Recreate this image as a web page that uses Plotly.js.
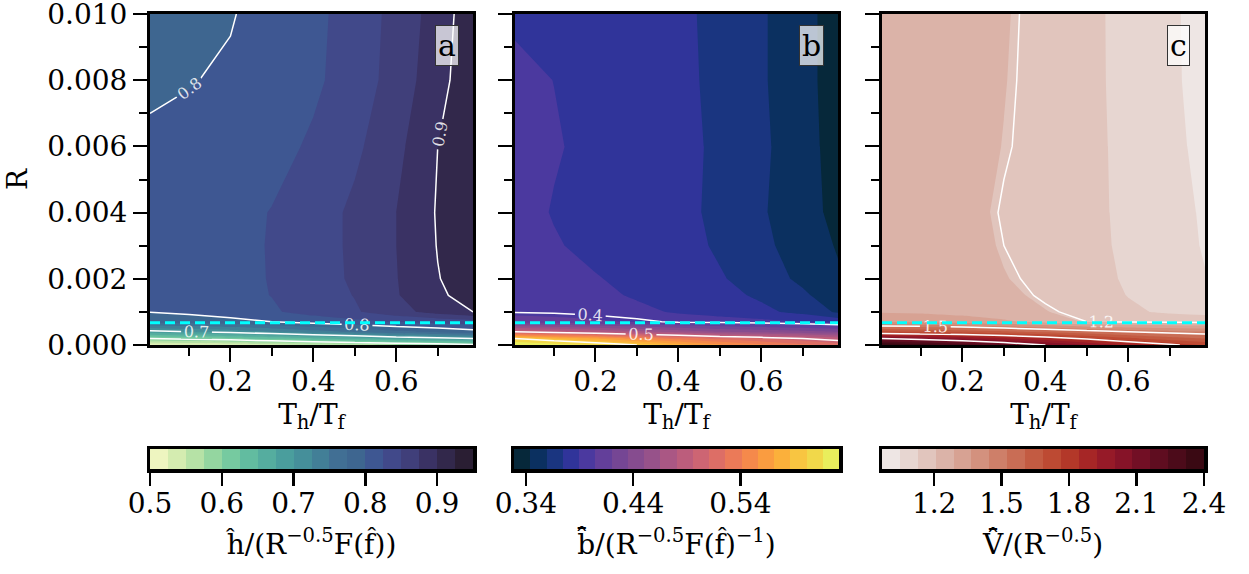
<!DOCTYPE html>
<html><head><meta charset="utf-8">
<script src="https://cdn.plot.ly/plotly-3.0.1.min.js"></script>
<style>html,body{margin:0;padding:0;background:#fff}#chart{width:1249px;height:574px}</style>
</head><body><div id="chart"></div>
<script>
// ---- data ----
const ThTf = [0.006, 0.1, 0.2, 0.3, 0.4, 0.5, 0.6, 0.7, 0.785];
const R = [0, 0.0002, 0.0004, 0.0007, 0.001, 0.0015, 0.002, 0.003, 0.004, 0.006, 0.008, 0.01];
const R_dashed = 0.00067;

const hRatio = [
  [0.52, 0.525, 0.53, 0.54, 0.55, 0.56, 0.57, 0.58, 0.59],
  [0.6, 0.61, 0.62, 0.635, 0.65, 0.665, 0.68, 0.69, 0.7],
  [0.69, 0.7, 0.71, 0.725, 0.74, 0.755, 0.77, 0.78, 0.79],
  [0.78, 0.786, 0.793, 0.8, 0.81, 0.818, 0.826, 0.833, 0.838],
  [0.801, 0.805, 0.81, 0.822, 0.834, 0.847, 0.866, 0.885, 0.9],
  [0.81, 0.813, 0.818, 0.8255, 0.837, 0.851, 0.873, 0.897, 0.907],
  [0.812, 0.815, 0.819, 0.826, 0.838, 0.854, 0.874, 0.899, 0.912],
  [0.81, 0.814, 0.818, 0.8265, 0.838, 0.855, 0.875, 0.901, 0.914],
  [0.808, 0.812, 0.817, 0.826, 0.838, 0.855, 0.875, 0.902, 0.915],
  [0.803, 0.806, 0.809, 0.816, 0.829, 0.845, 0.868, 0.9, 0.918],
  [0.797, 0.799, 0.803, 0.81, 0.82, 0.838, 0.859, 0.892, 0.915],
  [0.793, 0.796, 0.7985, 0.809, 0.818, 0.837, 0.857, 0.887, 0.915]
];
const bRatio = [
  [0.63, 0.625, 0.615, 0.6, 0.58, 0.56, 0.545, 0.53, 0.52],
  [0.6, 0.585, 0.57, 0.55, 0.535, 0.52, 0.51, 0.5, 0.49],
  [0.5, 0.49, 0.48, 0.47, 0.46, 0.45, 0.445, 0.44, 0.435],
  [0.415, 0.412, 0.408, 0.403, 0.398, 0.396, 0.394, 0.39, 0.385],
  [0.399, 0.398, 0.396, 0.393, 0.388, 0.384, 0.378, 0.37, 0.357],
  [0.397, 0.396, 0.393, 0.388, 0.384, 0.379, 0.372, 0.362, 0.35],
  [0.396, 0.394, 0.3902, 0.387, 0.383, 0.376, 0.367, 0.356, 0.346],
  [0.395, 0.3905, 0.387, 0.385, 0.381, 0.372, 0.363, 0.352, 0.343],
  [0.3935, 0.389, 0.386, 0.384, 0.38, 0.37, 0.361, 0.35, 0.34],
  [0.394, 0.3905, 0.387, 0.385, 0.38, 0.371, 0.362, 0.351, 0.337],
  [0.392, 0.3895, 0.386, 0.384, 0.379, 0.37, 0.361, 0.35, 0.336],
  [0.388, 0.386, 0.385, 0.383, 0.378, 0.37, 0.361, 0.35, 0.336]
];
const VRatio = [
  [2.4, 2.35, 2.28, 2.2, 2.1, 2.0, 1.9, 1.82, 1.75],
  [2.1, 2.05, 2.0, 1.93, 1.86, 1.78, 1.7, 1.64, 1.6],
  [1.7, 1.68, 1.65, 1.62, 1.58, 1.54, 1.5, 1.47, 1.45],
  [1.36, 1.35, 1.33, 1.3, 1.26, 1.2, 1.195, 1.19, 1.185],
  [1.28, 1.275, 1.26, 1.24, 1.21, 1.18, 1.14, 1.115, 1.1],
  [1.265, 1.26, 1.245, 1.225, 1.19, 1.16, 1.125, 1.085, 1.06],
  [1.26, 1.255, 1.24, 1.21, 1.185, 1.155, 1.118, 1.078, 1.05],
  [1.255, 1.25, 1.235, 1.2, 1.178, 1.15, 1.112, 1.072, 1.043],
  [1.25, 1.245, 1.23, 1.195, 1.175, 1.148, 1.11, 1.07, 1.04],
  [1.245, 1.24, 1.23, 1.205, 1.18, 1.147, 1.108, 1.065, 1.03],
  [1.24, 1.235, 1.225, 1.209, 1.18, 1.145, 1.106, 1.062, 1.02],
  [1.24, 1.235, 1.225, 1.212, 1.18, 1.145, 1.105, 1.06, 1.02]
];

// filled-contour level edges (colorbar bins)
const hLevels = [0.5, 0.525, 0.55, 0.575, 0.6, 0.625, 0.65, 0.675, 0.7, 0.725, 0.75, 0.775, 0.8, 0.825, 0.85, 0.875, 0.9, 0.925, 0.95];
const bLevels = [0.329, 0.34415, 0.3593, 0.37445, 0.3896, 0.40475, 0.4199, 0.43505, 0.4502, 0.46535, 0.4805, 0.49565, 0.5108, 0.52595, 0.5411, 0.55625, 0.5714, 0.58655, 0.6017, 0.61685, 0.632];
const VLevels = [0.968, 1.04756, 1.12711, 1.20667, 1.28622, 1.36578, 1.44533, 1.52489, 1.60444, 1.684, 1.76356, 1.84311, 1.92267, 2.00222, 2.08178, 2.16133, 2.24089, 2.32044, 2.4];

// labelled line levels
const hLines = {start: 0.6, end: 0.9, size: 0.1};
const bLines = {start: 0.4, end: 0.6, size: 0.1};
const VLines = {start: 1.2, end: 2.4, size: 0.3};

// tick labels
const hTicks = [0.5, 0.6, 0.7, 0.8, 0.9];
const bTicks = [0.34, 0.44, 0.54];
const VTicks = [1.2, 1.5, 1.8, 2.1, 2.4];
const xTicks = [0.2, 0.4, 0.6];
const xMinor = [0.1, 0.3, 0.5, 0.7];
const yTicks = [0, 0.002, 0.004, 0.006, 0.008, 0.01];
const yMinor = [0.001, 0.003, 0.005, 0.007, 0.009];

// ---- styles ----
const deepColors = ['#eef5c0','#d4ecb0','#b6e2a6','#94d6a0','#76caa0','#62bca0','#55ad9f','#4a9e9d','#458f9a','#427f97','#416f94','#3e6690','#3e5792','#41498a','#403f7a','#3a3264','#32284b','#2a1e33'];
const thermalColors = ['#06283a','#0b3060','#1a3580','#30349a','#4b399f','#633f9a','#754694','#864c8f','#97528a','#aa5784','#bc5d7c','#cd6573','#dd6e66','#eb7a58','#f5894b','#fa9c40','#fbb03b','#f8c541','#f1d84a','#e9ee5c'];
const ampColors = ['#eee6e4','#e7d6d1','#e1c5bd','#dbb3a8','#d7a293','#d3917e','#ce7f69','#c96d55','#c35b42','#bd4a33','#b33829','#a62626','#961a28','#861328','#720f25','#5f0d20','#4c0b1a','#3a0913'];

const FONT = 'DejaVu Serif, serif';
const TICK = 28, TITLE = 28;

function fillScale(cols) {
  const N = cols.length, s = [[0, cols[0]]];
  for (let k = 0; k < N; k++) s.push([(k + 1) / (N + 1), cols[k]]);
  s.push([1, cols[N - 1]]);
  return s;
}
function barScale(cols) {
  const N = cols.length;
  return cols.map((c, i) => [i / (N - 1), c]);
}

const panels = [
  {z: hRatio, lev: hLevels, cols: deepColors, lines: hLines, ticks: hTicks, title: 'ĥ/(R<sup>−0.5</sup>F(f̂))', letter: 'a'},
  {z: bRatio, lev: bLevels, cols: thermalColors, lines: bLines, ticks: bTicks, title: 'b̄̂/(R<sup>−0.5</sup>F(f̂)<sup>−1</sup>)', letter: 'b'},
  {z: VRatio, lev: VLevels, cols: ampColors, lines: VLines, ticks: VTicks, title: 'V̄̂/(R<sup>−0.5</sup>)', letter: 'c'}
];

const W = 1249, H = 574;
const px = [[150, 473], [515, 838], [882, 1205]];
const cbx = [[150, 473], [514, 839], [882, 1204]];
const plotY = [(H - 345) / H, (H - 14) / H];
const cbY = [(H - 469) / H, (H - 449) / H];

const data = [];
const layout = {
  width: W, height: H, margin: {l: 0, r: 0, t: 0, b: 0},
  paper_bgcolor: '#fff', plot_bgcolor: '#fff', showlegend: false,
  font: {family: FONT, size: TICK, color: '#000'},
  shapes: [], annotations: []
};
const axKey = (a) => (a[0] === 'x' ? 'xaxis' : 'yaxis') + a.slice(1);

panels.forEach((p, i) => {
  const xa = 'x' + (i === 0 ? '' : i + 1), ya = 'y' + (i === 0 ? '' : i + 1);
  const xb = 'x' + (i + 4), yb = 'y' + (i + 4);
  const L0 = p.lev[0], LN = p.lev[p.lev.length - 1];
  const cs = (LN - L0) / (p.lev.length - 1);
  data.push({
    type: 'contour', x: ThTf, y: R, z: p.z, xaxis: xa, yaxis: ya,
    autocontour: false,
    contours: {coloring: 'fill', start: L0, end: LN, size: cs, showlines: false},
    colorscale: fillScale(p.cols), showscale: false,
    line: {width: 0, smoothing: 0}, hoverinfo: 'skip'
  });
  data.push({
    type: 'contour', x: ThTf, y: R, z: p.z, xaxis: xa, yaxis: ya,
    autocontour: false,
    contours: {coloring: 'none', start: p.lines.start, end: p.lines.end, size: p.lines.size,
      showlabels: true, labelformat: '.1f', labelfont: {family: FONT, size: 16, color: 'rgba(255,255,255,0.85)'}},
    line: {color: '#ffffff', width: 1.5, smoothing: 0}, showscale: false, hoverinfo: 'skip'
  });
  data.push({
    type: 'heatmap', x: p.lev, y: [0], z: [p.cols.map((c, k) => k)],
    zmin: 0, zmax: p.cols.length - 1, colorscale: barScale(p.cols), showscale: false,
    xaxis: xb, yaxis: yb, hoverinfo: 'skip'
  });

  layout[axKey(xa)] = {
    domain: [px[i][0] / W, px[i][1] / W], anchor: ya, range: [ThTf[0], ThTf[ThTf.length - 1]],
    tickmode: 'array', tickvals: xTicks, ticktext: xTicks.map(v => v.toFixed(1)),
    ticks: 'outside', ticklen: 14, tickwidth: 2, tickcolor: '#000', ticklabelstandoff: -5,
    minor: {tickmode: 'array', tickvals: xMinor, ticks: 'outside', ticklen: 8, tickwidth: 2, tickcolor: '#000'},
    showline: true, mirror: true, linewidth: 3, linecolor: '#000',
    showgrid: false, zeroline: false, tickfont: {family: FONT, size: TICK},
    title: {text: 'T<sub>h</sub>/T<sub>f</sub>', font: {family: FONT, size: TITLE}, standoff: 0}
  };
  layout[axKey(ya)] = {
    domain: plotY, anchor: xa, range: [R[0], R[R.length - 1]],
    tickmode: 'array', tickvals: yTicks, ticktext: yTicks.map(v => v.toFixed(3)), showticklabels: i === 0,
    ticklabeloverflow: 'allow',
    ticks: 'outside', ticklen: 14, tickwidth: 2, tickcolor: '#000',
    minor: {tickmode: 'array', tickvals: yMinor, ticks: 'outside', ticklen: 8, tickwidth: 2, tickcolor: '#000'},
    showline: true, mirror: true, linewidth: 3, linecolor: '#000',
    showgrid: false, zeroline: false, tickfont: {family: FONT, size: TICK},
    title: i === 0 ? {text: 'R', font: {family: FONT, size: TITLE}, standoff: 12} : {text: ''}
  };
  layout[axKey(xb)] = {
    domain: [cbx[i][0] / W, cbx[i][1] / W], anchor: yb, range: [L0, LN],
    tickmode: 'array', tickvals: p.ticks, ticktext: p.ticks.map(v => String(v)),
    ticklabeloverflow: 'allow',
    ticks: 'outside', ticklen: 13, tickwidth: 2.5, tickcolor: '#000', ticklabelstandoff: -6,
    showline: true, mirror: true, linewidth: 3.5, linecolor: '#000',
    showgrid: false, zeroline: false, tickfont: {family: FONT, size: TICK},
    title: {text: p.title, font: {family: FONT, size: TITLE}, standoff: 16}
  };
  layout[axKey(yb)] = {
    domain: cbY, anchor: xb, range: [-0.5, 0.5], showticklabels: false, ticks: '',
    showline: true, mirror: true, linewidth: 3.5, linecolor: '#000', showgrid: false, zeroline: false
  };
  layout.shapes.push({
    type: 'line', xref: xa + ' domain', yref: ya, x0: 0, x1: 1, y0: R_dashed, y1: R_dashed,
    line: {color: '#00ffff', width: 3, dash: '10px,5px'}
  });
  layout.annotations.push({
    xref: xa + ' domain', yref: ya + ' domain', x: 0.918, y: 0.906, xanchor: 'center', yanchor: 'middle',
    text: p.letter, showarrow: false, font: {family: FONT, size: 30, color: '#000'},
    bgcolor: 'rgba(255,255,255,0.72)', bordercolor: '#333', borderwidth: 1, borderpad: 2
  });
});

Plotly.newPlot('chart', data, layout, {displayModeBar: false, staticPlot: true});
</script>
</body></html>
